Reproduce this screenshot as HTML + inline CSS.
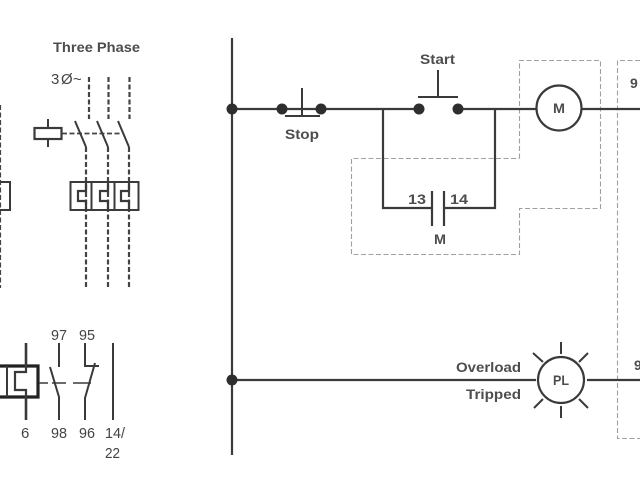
<!DOCTYPE html>
<html>
<head>
<meta charset="utf-8">
<style>
html,body{margin:0;padding:0;background:#fff}
svg{display:block}
text{font-family:"Liberation Sans",sans-serif;fill:#4d4d4d}
.b{font-weight:bold;font-size:14px}
.n{font-size:15px;fill:#444}
</style>
</head>
<body>
<svg width="640" height="480" viewBox="0 0 640 480" xmlns="http://www.w3.org/2000/svg">
<rect width="640" height="480" fill="#fff"/>
<!-- gray dashed boxes -->
<g fill="none" stroke="#a0a0a0" stroke-width="1.100" stroke-dasharray="5 2.5">
<path d="M519.500 158.500V60.500H600.500V208.500H519.500V254.500H351.500V158.500H519.500"/>
<path d="M640 60.500H617.500V438.500H640"/>
</g>
<g fill="none" stroke="#3a3a3a" stroke-width="2">
<!-- three phase dashed -->
<g stroke-dasharray="5 2.5" stroke-width="2.200" stroke="#444">
<path d="M89 77V119M108.500 77V119M129.500 77V119"/>
<path d="M86 147V288M108 147V288M129 147V288"/>
<path d="M0 105V288"/>
<path d="M62 133.500H122" stroke-width="1.800"/>
</g>
<!-- contacts -->
<path d="M75 121L86 147M97 121L108 147M118 121L129 147"/>
<!-- coil -->
<rect x="34.500" y="128" width="27" height="11" stroke-width="2.200"/>
<path d="M48 119V128M48 139V147"/>
<!-- thermal block -->
<rect x="70.500" y="182" width="68" height="28" stroke-width="2"/>
<path d="M91.500 182V210M114.500 182V210"/>
<path d="M86 182V191H78V201H86V210M108 182V191H100V201H108V210M129 182V191H121V201H129V210" stroke-width="2.200"/>
<path d="M0 182H10V210H0"/>
<!-- overload relay -->
<path d="M0 366H38V397H0" stroke-width="3.200" stroke="#222"/>
<path d="M7 366V397" stroke-width="2"/>
<path d="M26 343V366M26 397V420" stroke-width="2.600"/>
<path d="M26 366V372H15V390H26V397" stroke-width="2.200"/>
<path d="M39 383H48M52 383H66M73 383H91" stroke-width="1.400"/>
<path d="M59 343V367M50 367L59 397V420"/>
<path d="M85 343V366H99M95 363L85 398V420"/>
<path d="M113 343V420"/>
<!-- rail -->
<path d="M232 38V455" stroke-width="2.200"/>
<!-- rung 1 -->
<path d="M232 109H419M458 109H537M582 109H640" stroke-width="2.200"/>
<path d="M285 116H320M302 88V116"/>
<path d="M418 97H458M438 70V97"/>
<path d="M383 109V208H431M495 109V208H445" stroke-width="2.200"/>
<path d="M432 191V226M444 191V226" stroke-width="2.200"/>
<circle cx="559" cy="108" r="22.500" fill="#fff" stroke-width="2.200"/>
<!-- rung 2 -->
<path d="M232 380H536M587 380H640" stroke-width="2.200"/>
<circle cx="561" cy="380" r="23" fill="#fff" stroke-width="2.200"/>
<path d="M561 342V354M561 406V418M533 353L543 362M579 362L588 353M534 408L543 399M579 399L588 408"/>
</g>
<g fill="#2e2e2e">
<circle cx="232" cy="109" r="5.500"/>
<circle cx="282" cy="109" r="5.500"/>
<circle cx="321" cy="109" r="5.500"/>
<circle cx="419" cy="109" r="5.500"/>
<circle cx="458" cy="109" r="5.500"/>
<circle cx="232" cy="380" r="5.500"/>
</g>
<!-- labels -->
<text class="b" x="53" y="52" textLength="87" lengthAdjust="spacingAndGlyphs">Three Phase</text>
<text class="n" x="51" y="84">3</text>
<text class="n" x="61" y="84" font-size="15">Ø</text>
<text class="n" x="73" y="84">~</text>
<text class="b" x="285" y="139" textLength="34" lengthAdjust="spacingAndGlyphs">Stop</text>
<text class="b" x="420" y="64" textLength="35" lengthAdjust="spacingAndGlyphs">Start</text>
<text class="b" x="408" y="204" textLength="18" lengthAdjust="spacingAndGlyphs">13</text>
<text class="b" x="450" y="204" textLength="18" lengthAdjust="spacingAndGlyphs">14</text>
<text class="b" x="434" y="244" textLength="12" lengthAdjust="spacingAndGlyphs">M</text>
<text class="b" x="553" y="113" textLength="12" lengthAdjust="spacingAndGlyphs">M</text>
<text class="b" x="553" y="385" textLength="16" lengthAdjust="spacingAndGlyphs">PL</text>
<text class="b" x="456" y="372" textLength="65" lengthAdjust="spacingAndGlyphs">Overload</text>
<text class="b" x="466" y="399" textLength="55" lengthAdjust="spacingAndGlyphs">Tripped</text>
<text class="b" x="630" y="88">9</text>
<text class="b" x="634" y="370">9</text>
<text class="n" x="51" y="340" textLength="16" lengthAdjust="spacingAndGlyphs">97</text>
<text class="n" x="79" y="340" textLength="16" lengthAdjust="spacingAndGlyphs">95</text>
<text class="n" x="21" y="438">6</text>
<text class="n" x="51" y="438" textLength="16" lengthAdjust="spacingAndGlyphs">98</text>
<text class="n" x="79" y="438" textLength="16" lengthAdjust="spacingAndGlyphs">96</text>
<text class="n" x="105" y="438" textLength="20" lengthAdjust="spacingAndGlyphs">14/</text>
<text class="n" x="105" y="458" textLength="15" lengthAdjust="spacingAndGlyphs">22</text>
</svg>
</body>
</html>
